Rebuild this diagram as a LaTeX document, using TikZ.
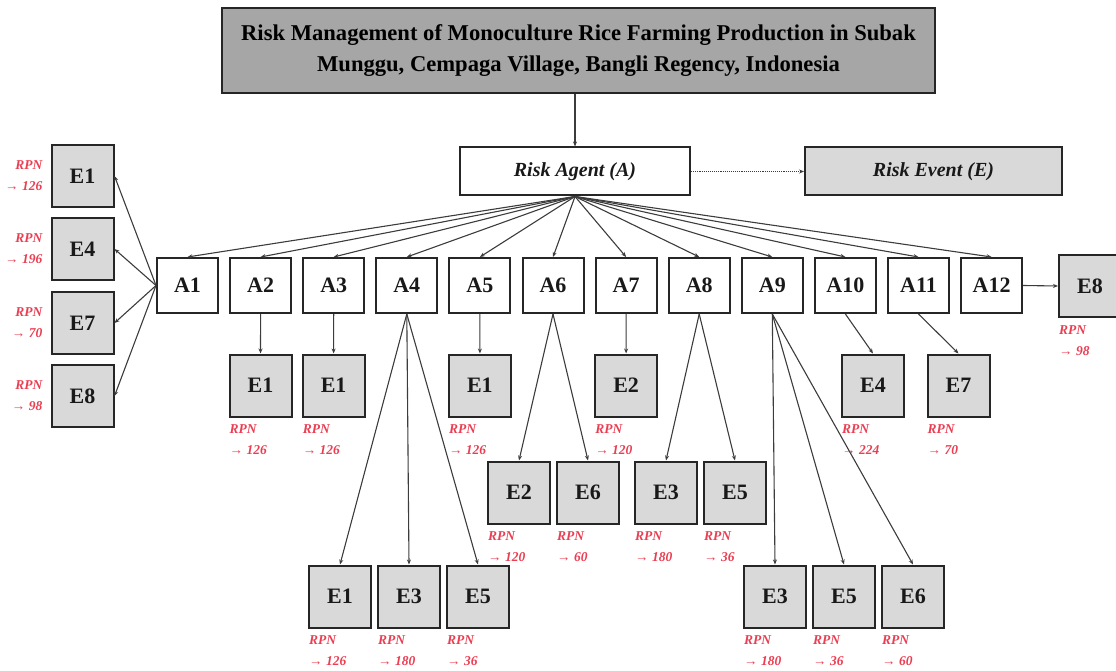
\documentclass[tikz,border=0pt]{standalone}
\usepackage{fontspec}
\setmainfont{Liberation Serif}
\usetikzlibrary{arrows.meta,positioning}

\definecolor{titlegray}{RGB}{166,166,166}
\definecolor{eventgray}{RGB}{217,217,217}
\definecolor{boxline}{RGB}{38,38,38}
\definecolor{linkgray}{RGB}{60,60,60}
\definecolor{rpnred}{RGB}{234,62,82}

\tikzset{
  agentbox/.style={draw=boxline, line width=2pt, fill=white, text=black!90,
    minimum width=61pt, minimum height=55pt, inner sep=0pt,
    font=\fontsize{22}{24}\selectfont\bfseries},
  eventbox/.style={agentbox, fill=eventgray, minimum width=62pt, minimum height=62pt},
  rpn/.style={text=rpnred, inner sep=0pt, font=\fontsize{13.5}{21}\selectfont\bfseries\itshape},
  rpnbelow/.style={label={[rpn, align=left, anchor=north west, yshift=-7pt, xshift=1pt]south west:RPN\\→ #1}},
  rpnleft/.style={label={[rpn, align=right, anchor=east, xshift=-8pt]west:RPN\\→ #1}},
  link/.style={-{Stealth[length=5pt,width=4pt]}, draw=linkgray, line width=1.1pt},
}

\begin{document}
\begin{tikzpicture}[x=1pt, y=-1pt]
    \useasboundingbox (0,0) rectangle (1116,671);

    %% Header
    \node[draw=boxline, line width=2.2pt, fill=titlegray, minimum width=713pt, minimum height=85pt,
      align=center, font=\fontsize{22.6}{31}\selectfont\bfseries] (title) at (578.5,50.5)
      {Risk Management of Monoculture Rice Farming Production in Subak\\Munggu, Cempaga Village, Bangli Regency, Indonesia};
    \node[agentbox, minimum width=230pt, minimum height=48pt, font=\fontsize{20}{22}\selectfont\bfseries\itshape]
      (agent) at (575,171.5) {Risk Agent (A)};
    \node[eventbox, minimum width=257pt, minimum height=48pt, font=\fontsize{20}{22}\selectfont\bfseries\itshape]
      (event) at (933.5,171.5) {Risk Event (E)};

    \draw[link] (agent.north |- title.south) -- (agent.north);
    \draw[link, densely dotted, line width=0.9pt] (agent) -- (event);

    %% Risk agents
    \foreach \i in {1,...,12}
      \node[agentbox] (A\i) at ({187.5+(\i-1)*73.1},285.5) {A\i};

    %% Risk events of A1
    \node[eventbox, rpnleft=126] (e1a) at (82.5,176) {E1};
    \node[eventbox, rpnleft=196] (e1b) at (82.5,249) {E4};
    \node[eventbox, rpnleft=70]  (e1c) at (82.5,323) {E7};
    \node[eventbox, rpnleft=98]  (e1d) at (82.5,396) {E8};

    % second row
    \node[eventbox, rpnbelow=126] (e2)  at (260.5,385.5) {E1};
    \node[eventbox, rpnbelow=126] (e3)  at (333.6,385.5) {E1};
    \node[eventbox, rpnbelow=126] (e5)  at (479.9,385.5) {E1};
    \node[eventbox, rpnbelow=120] (e7)  at (626.1,385.5) {E2};
    \node[eventbox, rpnbelow=224] (e10) at (873,385.5)   {E4};
    \node[eventbox, rpnbelow=70]  (e11) at (958.5,385.5) {E7};

    % third row
    \node[eventbox, rpnbelow=120] (e6a) at (519,492.5) {E2};
    \node[eventbox, rpnbelow=60]  (e6b) at (588,492.5) {E6};
    \node[eventbox, rpnbelow=180] (e8a) at (666,492.5) {E3};
    \node[eventbox, rpnbelow=36]  (e8b) at (735,492.5) {E5};

    % fourth row
    \node[eventbox, rpnbelow=126] (e4a) at (340,596.5) {E1};
    \node[eventbox, rpnbelow=180] (e4b) at (409,596.5) {E3};
    \node[eventbox, rpnbelow=36]  (e4c) at (478,596.5) {E5};
    \node[eventbox, rpnbelow=180] (e9a) at (775,596.5) {E3};
    \node[eventbox, rpnbelow=36]  (e9b) at (844,596.5) {E5};
    \node[eventbox, rpnbelow=60]  (e9c) at (913,596.5) {E6};

    % event of A12
    \node[eventbox, rpnbelow=98] (e12) at (1090,286) {E8};

    %% Connectors
    \foreach \i in {1,...,12}
      \draw[link] (agent.south) -- (A\i.north);
    \foreach \e in {e1a,e1b,e1c,e1d}
      \draw[link] (A1.west) -- (\e.east);
    \draw[link] (A2.south) -- (e2.north);
    \draw[link] (A3.south) -- (e3.north);
    \foreach \e in {e4a,e4b,e4c}
      \draw[link] (A4.south) -- (\e.north);
    \draw[link] (A5.south) -- (e5.north);
    \draw[link] (A6.south) -- (e6a.north);
    \draw[link] (A6.south) -- (e6b.north);
    \draw[link] (A7.south) -- (e7.north);
    \draw[link] (A8.south) -- (e8a.north);
    \draw[link] (A8.south) -- (e8b.north);
    \foreach \e in {e9a,e9b,e9c}
      \draw[link] (A9.south) -- (\e.north);
    \draw[link] (A10.south) -- (e10.north);
    \draw[link] (A11.south) -- (e11.north);
    \draw[link] (A12.east) -- (e12.west);

\end{tikzpicture}
\end{document}
